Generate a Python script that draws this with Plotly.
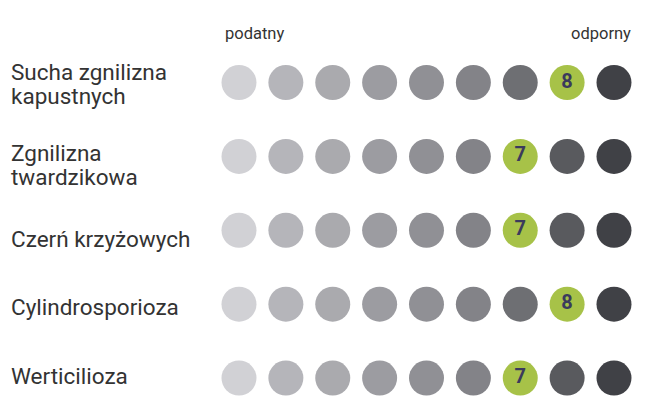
import plotly.graph_objects as go

diseases = ["Sucha zgnilizna\nkapustnych", "Zgnilizna\ntwardzikowa", "Czerń krzyżowych",
            "Cylindrosporioza", "Werticilioza"]
ratings = [8, 7, 7, 8, 7]
levels = [1, 2, 3, 4, 5, 6, 7, 8, 9]
scale_labels = ["podatny", "odporny"]

# styling
level_colors = ["#d1d1d5", "#b5b5ba", "#aaaaae", "#9c9ca1", "#909095", "#838388",
                "#6e6f73", "#595a5e", "#404146"]
highlight_color = "#a7c248"
# vertical offset (px) of each label line relative to its row of dots
label_line_shift = [[-9.5, 14.0], [-2.0, 21.5], [10.0], [4.0], [-1.0]]

fig = go.Figure()
for row, (name, r) in enumerate(zip(diseases, ratings)):
    cols = [highlight_color if lv == r else level_colors[lv - 1] for lv in levels]
    txt = [str(lv) if lv == r else "" for lv in levels]
    fig.add_trace(go.Scatter(
        x=levels, y=[row] * len(levels), mode="markers+text",
        marker=dict(size=35, color=cols, line=dict(width=0)),
        text=txt, textposition="middle center",
        textfont=dict(family="Roboto", size=20, color="#3b3a5c", weight="bold"),
        hoverinfo="skip", showlegend=False,
    ))
    for line, shift in zip(name.split("\n"), label_line_shift[row]):
        fig.add_annotation(x=1 / 650, xref="paper", y=row, yref="y", text=line,
                           showarrow=False, xanchor="left", yanchor="middle", align="left",
                           yshift=-shift + 1,
                           font=dict(family="Roboto", size=22.5, color="#333333"))

fig.add_annotation(x=levels[0] - 0.35, xref="x", y=-0.66, yref="y", text=scale_labels[0],
                   showarrow=False, xanchor="left", yanchor="middle",
                   font=dict(family="Roboto", size=16.5, color="#333333"))
fig.add_annotation(x=levels[-1] + 0.41, xref="x", y=-0.66, yref="y", text=scale_labels[1],
                   showarrow=False, xanchor="right", yanchor="middle",
                   font=dict(family="Roboto", size=16.5, color="#333333"))

fig.update_xaxes(range=[-3.928, 9.939], visible=False, fixedrange=True)
fig.update_yaxes(range=[4.460, -1.0085], visible=False, fixedrange=True)
fig.update_layout(width=650, height=404, margin=dict(l=0, r=0, t=0, b=0),
                  paper_bgcolor="white", plot_bgcolor="white")
fig.write_html("out.html")
